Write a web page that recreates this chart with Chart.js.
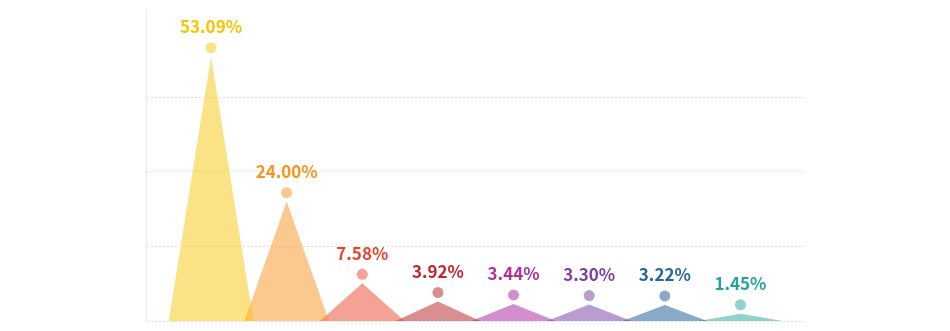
<!DOCTYPE html>
<html>
<head>
<meta charset="utf-8">
<script src="https://cdn.jsdelivr.net/npm/chart.js@4/dist/chart.umd.min.js"></script>
<style>
  html, body { margin: 0; padding: 0; background: #fff; }
  #wrap { width: 950px; height: 331px; }
</style>
</head>
<body>
<div id="wrap"><canvas id="mycanvas"></canvas></div>
<script>
// percentage share per slot, left to right
var shares = [53.09, 24.00, 7.58, 3.92, 3.44, 3.30, 3.22, 1.45];
var textColors = ['#f6c500', '#f7941d', '#e8452c', '#c1272d', '#b22fa0', '#7d3fa3', '#2567a2', '#25a599'];
var fillColors = ['rgba(246,197,0,0.48)', 'rgba(247,148,29,0.5)', 'rgba(232,69,44,0.5)', 'rgba(179,30,38,0.5)',
                  'rgba(170,30,155,0.5)', 'rgba(115,60,165,0.5)', 'rgba(20,85,145,0.5)', 'rgba(35,165,150,0.5)'];
var halfBase = 0.56;   // half width of each spike, in slot units
var gridTicks = [0, 15, 30, 45];

var datasets = [];
for (var i in shares) {
  var idx = Number(i);
  datasets.push({
    data: [{x: idx - halfBase, y: 0}, {x: idx, y: shares[i]}, {x: idx + halfBase, y: 0}],
    backgroundColor: fillColors[i],
    borderWidth: 0,
    pointRadius: 0,
    fill: 'origin',
    tension: 0
  });
}

// dot above each peak plus the value text
var peakLabels = {
  id: 'peakLabels',
  afterDatasetsDraw: function(chart) {
    var ctx = chart.ctx;
    var xs = chart.scales.x, ys = chart.scales.y;
    ctx.save();
    for (var i in shares) {
      var px = xs.getPixelForValue(Number(i));
      var py = ys.getPixelForValue(shares[i]);
      ctx.fillStyle = fillColors[i];
      ctx.beginPath();
      ctx.arc(px, py - 9, 5.5, 0, Math.PI * 2);
      ctx.fill();
      ctx.fillStyle = textColors[i];
      ctx.font = 'bold 17px "Noto Sans CJK SC", sans-serif';
      ctx.textAlign = 'center';
      ctx.textBaseline = 'middle';
      ctx.fillText(shares[i].toFixed(2) + '%', px, py - 30);
    }
    ctx.restore();
  }
};

var ctx = document.getElementById('mycanvas');
var chart = new Chart(ctx, {
  type: 'line',
  data: { datasets: datasets },
  options: {
    responsive: true,
    maintainAspectRatio: false,
    animation: false,
    layout: { padding: { left: 146, right: 146, top: 10, bottom: 10 } },
    plugins: { legend: { display: false }, tooltip: { enabled: false } },
    scales: {
      x: { type: 'linear', min: -0.86, max: 7.84, display: false },
      y: {
        min: 0,
        max: 62.5,
        afterBuildTicks: function(axis) {
          axis.ticks = gridTicks.map(function(v) { return {value: v}; });
        },
        ticks: { display: false },
        grid: { color: '#e4e4e4', lineWidth: 1, drawTicks: false },
        border: { display: true, color: '#e8e8e8', dash: [2, 2] }
      }
    }
  },
  plugins: [peakLabels]
});
</script>
</body>
</html>
